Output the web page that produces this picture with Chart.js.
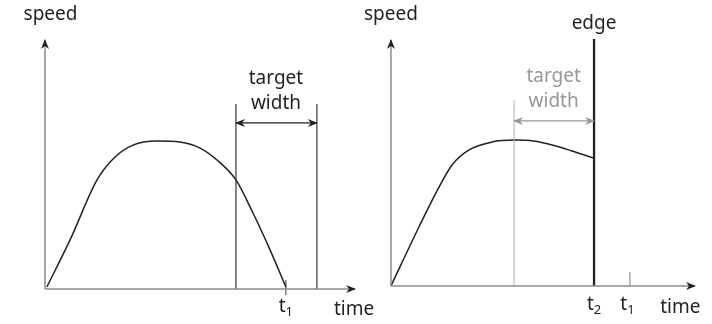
<!DOCTYPE html>
<html>
<head>
<meta charset="utf-8">
<script src="https://cdn.jsdelivr.net/npm/chart.js@4"></script>
<style>
  body { margin: 0; background: #fff; }
  .panel { position: absolute; top: 0; height: 324px; }
  #left-panel { left: 0; width: 380px; }
  #right-panel { left: 356px; width: 356px; }
</style>
</head>
<body>
<div class="panel" id="left-panel"><canvas id="left-chart" width="380" height="324"></canvas></div>
<div class="panel" id="right-panel"><canvas id="right-chart" width="356" height="324"></canvas></div>
<script>
// --- data (time / speed in arbitrary units, axes run 0..100) ---
const leftTime  = [0.6, 8.1, 16.8, 22.6, 28.4, 36.1, 43.5, 50.0, 55.5, 61.6, 67.1, 72.6, 77.7];
const leftSpeed = [0.8, 19.7, 43.8, 53.0, 57.8, 59.4, 59.0, 56.6, 51.8, 43.8, 30.5, 15.7, 0.8];
const leftTarget = [61.6, 87.7];        // start / end of target width
const leftTargetTop = 74.3;
const leftArrowSpeed = 66.7;
const leftT1 = 77.7;

const rightTime  = [0, 9.2, 15.8, 20.1, 25.7, 33.2, 40.5, 47.0, 53.0, 59.5, 66.8];
const rightSpeed = [0, 24.0, 40.2, 49.2, 55.3, 58.5, 59.3, 58.9, 57.3, 54.9, 52.0];
const rightTarget = [40.5, 66.8];       // gray target width, ends at the edge
const rightTargetTop = 75.6;
const rightArrowSpeed = 67.1;
const edgeTop = 100.4;
const rightT2 = 66.8;
const rightT1 = 78.6;

const axisEnd = 100;
const yLabel = 'speed';
const xLabel = 'time';

const INK = '#231f20';
const AXIS = '#8c8c8c';
const GRAY = '#979797';
const FONT = '"Noto Sans", "Open Sans", sans-serif';

const pts = (xs, ys) => xs.map((x, i) => ({ x, y: ys[i] }));
const seg = (x1, y1, x2, y2) => [{ x: x1, y: y1 }, { x: x2, y: y2 }];

function lineSet(data, color, width, extra) {
    return Object.assign({ data, borderColor: color, borderWidth: width, showLine: true,
        pointRadius: 0, fill: false }, extra || {});
}

// draws arrow heads at the ends of datasets that ask for them
const arrowPlugin = {
    id: 'arrows',
    afterDatasetsDraw(chart) {
        const ctx = chart.ctx;
        chart.data.datasets.forEach((ds, i) => {
            if (!ds.arrows) return;
            const p = chart.getDatasetMeta(i).data;
            const ends = ds.arrows === 'both' ? [[p[1], p[0]], [p[0], p[1]]] : [[p[0], p[1]]];
            ends.forEach(([a, b]) => {
                const ang = Math.atan2(b.y - a.y, b.x - a.x);
                const len = 9, half = 4;
                ctx.save();
                ctx.translate(b.x, b.y);
                ctx.rotate(ang);
                ctx.fillStyle = ds.headColor || ds.borderColor;
                ctx.beginPath();
                ctx.moveTo(1, 0);
                ctx.lineTo(-len, -half);
                ctx.lineTo(-len + 3, 0);
                ctx.lineTo(-len, half);
                ctx.closePath();
                ctx.fill();
                ctx.restore();
            });
        });
    }
};

// text labels placed in data units
const labelPlugin = {
    id: 'labels',
    afterDraw(chart) {
        const ctx = chart.ctx;
        const xs = chart.scales.x, ys = chart.scales.y;
        (chart.options.plugins.labels.items || []).forEach(l => {
            const x = xs.getPixelForValue(l.x), y = ys.getPixelForValue(l.y);
            ctx.save();
            ctx.fillStyle = l.color || INK;
            ctx.textBaseline = 'middle';
            if (l.sub) {
                ctx.font = '19px ' + FONT;
                const w1 = ctx.measureText(l.text).width;
                ctx.font = '13px ' + FONT;
                const w2 = ctx.measureText(l.sub).width;
                const x0 = x - (w1 + w2) / 2;
                ctx.textAlign = 'left';
                ctx.font = '19px ' + FONT;
                ctx.fillText(l.text, x0, y);
                ctx.font = '13px ' + FONT;
                ctx.fillText(l.sub, x0 + w1, y + 5);
            } else {
                ctx.font = '19px ' + FONT;
                ctx.textAlign = 'center';
                ctx.fillText(l.text, x, y);
            }
            ctx.restore();
        });
    }
};

function makeChart(canvas, datasets, labels, xr, yr) {
    return new Chart(canvas, {
        type: 'scatter',
        data: { datasets },
        options: {
            responsive: false,
            animation: false,
            layout: { padding: 0 },
            elements: { line: { cubicInterpolationMode: 'monotone' } },
            scales: {
                x: { type: 'linear', display: false, min: xr[0], max: xr[1] },
                y: { type: 'linear', display: false, min: yr[0], max: yr[1] }
            },
            plugins: { legend: { display: false }, tooltip: { enabled: false }, labels: { items: labels } }
        },
        plugins: [arrowPlugin, labelPlugin]
    });
}

// --- left panel ---
makeChart(document.getElementById('left-chart'), [
    lineSet(seg(0, 0, axisEnd, 0), AXIS, 1.5, { arrows: 'end', headColor: INK }),
    lineSet(seg(0, 0, 0, axisEnd), AXIS, 1.5, { arrows: 'end', headColor: INK }),
    lineSet(pts(leftTime, leftSpeed), INK, 1.5),
    lineSet(seg(leftTarget[0], 0, leftTarget[0], leftTargetTop), '#444', 1.3),
    lineSet(seg(leftTarget[1], 0, leftTarget[1], leftTargetTop), '#444', 1.3),
    lineSet(seg(leftTarget[0], leftArrowSpeed, leftTarget[1], leftArrowSpeed), INK, 1.3, { arrows: 'both' }),
    lineSet(seg(leftT1, -2.4, leftT1, 3.6), '#555', 1.2)
], [
    { text: yLabel, x: 1.8, y: 110.0 },
    { text: 'target', x: 74.5, y: 84.3 },
    { text: 'width', x: 74.5, y: 74.3 },
    { text: 't', sub: '1', x: leftT1, y: -7.2 },
    { text: xLabel, x: 99.7, y: -8.4 }
], [-14.5, 108.06], [-14.06, 116.06]);

// --- right panel ---
makeChart(document.getElementById('right-chart'), [
    lineSet(seg(0, 0, axisEnd, 0), AXIS, 1.5, { arrows: 'end', headColor: INK }),
    lineSet(seg(0, 0, 0, axisEnd), AXIS, 1.5, { arrows: 'end', headColor: INK }),
    lineSet(seg(rightTarget[0], 0, rightTarget[0], rightTargetTop), '#b0b0b0', 1),
    lineSet(seg(rightTarget[0], rightArrowSpeed, rightTarget[1], rightArrowSpeed), GRAY, 1.3, { arrows: 'both' }),
    lineSet(pts(rightTime, rightSpeed), INK, 1.5),
    lineSet(seg(rightT2, 0, rightT2, edgeTop), INK, 2.3),
    lineSet(seg(rightT1, 0, rightT1, 5.7), '#777', 1)
], [
    { text: yLabel, x: 0, y: 110.2 },
    { text: 'edge', x: rightT2, y: 106.5 },
    { text: 'target', x: 53.5, y: 85.0, color: GRAY },
    { text: 'width', x: 53.5, y: 74.8, color: GRAY },
    { text: 't', sub: '2', x: rightT2, y: -7.7 },
    { text: 't', sub: '1', x: rightT1 - 0.8, y: -7.7 },
    { text: xLabel, x: 95.2, y: -8.9 }
], [-11.5, 105.6], [-15.45, 116.26]);
</script>
</body>
</html>
